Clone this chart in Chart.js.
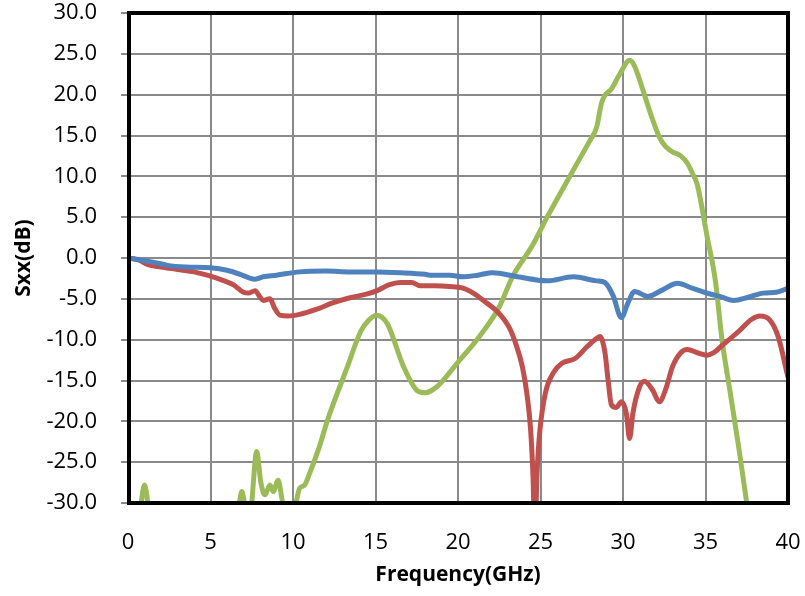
<!DOCTYPE html>
<html>
<head>
<meta charset="utf-8">
<script src="https://cdn.jsdelivr.net/npm/chart.js@4"></script>
<style>
html,body{margin:0;padding:0;background:#fff;}
#wrap{width:805px;height:596px;}
</style>
</head>
<body>
<div id="wrap"><canvas id="c" width="805" height="596"></canvas></div>
<script>
// Frequency (GHz) and Sxx (dB) values per trace
const xTicks = [0, 5, 10, 15, 20, 25, 30, 35, 40];
const yTicks = [30, 25, 20, 15, 10, 5, 0, -5, -10, -15, -20, -25, -30];

const blueFreq = [0, 0.6, 1.5, 2.4, 3.5, 5, 6, 6.8, 7.3, 7.7, 8.2, 9, 10.4, 12, 13.5, 15, 16.5, 18, 18.3, 19.5, 20.3, 21.2, 22.1, 23.6, 25.4, 27.0, 28.4, 28.9, 29.4, 29.9, 30.3, 30.7, 31.5, 32.4, 33.3, 34.2, 35.1, 36.0, 36.7, 37.6, 38.5, 39.3, 40];
const blueDb   = [0, -0.2, -0.5, -0.9, -1.1, -1.2, -1.5, -2.0, -2.4, -2.6, -2.3, -2.1, -1.7, -1.6, -1.7, -1.7, -1.8, -2.0, -2.1, -2.1, -2.3, -2.1, -1.8, -2.3, -2.8, -2.3, -2.8, -3.0, -4.6, -7.3, -5.5, -4.1, -4.7, -3.9, -3.1, -3.7, -4.3, -4.8, -5.2, -4.8, -4.3, -4.2, -3.7];

const redFreq = [0, 0.6, 1.2, 2, 3, 4, 4.8, 5.7, 6.4, 7.0, 7.3, 7.7, 8.0, 8.2, 8.6, 8.9, 9.2, 9.7, 10.4, 11.4, 12.4, 13.4, 14.5, 15.1, 15.8, 16.5, 17.2, 17.7, 18.6, 19.5, 20.3, 21.0, 21.6, 22.4, 23.1, 23.5, 23.9, 24.2, 24.4, 24.55, 24.65, 24.8, 24.95, 25.3, 25.8, 26.3, 27.1, 27.8, 28.3, 28.6, 28.9, 29.1, 29.3, 29.6, 29.9, 30.2, 30.4, 30.6, 31.0, 31.3, 31.8, 32.2, 32.6, 33.0, 33.5, 33.9, 34.5, 35.1, 35.5, 35.9, 37.0, 37.8, 38.3, 38.9, 39.4, 40];
const redDb   = [0, -0.2, -0.8, -1.1, -1.4, -1.7, -2.1, -2.7, -3.3, -4.2, -4.3, -4.0, -4.8, -5.2, -5.0, -6.2, -7.0, -7.1, -6.9, -6.3, -5.5, -4.9, -4.4, -4.0, -3.3, -3.0, -3.0, -3.4, -3.4, -3.5, -3.7, -4.4, -5.3, -6.6, -8.5, -10.5, -13.3, -17, -21, -27, -34, -26, -21.4, -16.5, -14, -12.9, -12.3, -10.9, -10.0, -9.6, -11.5, -15, -18.0, -18.3, -17.6, -19, -22.1, -19, -15.8, -15.1, -16.2, -17.6, -16, -13.3, -11.6, -11.2, -11.6, -11.9, -11.6, -10.9, -9.0, -7.5, -7.1, -7.6, -9.6, -14.6];

const greenFreq = [0, 0.6, 0.8, 1.0, 1.2, 1.4, 6.5, 6.75, 6.9, 7.05, 7.3, 7.5, 7.8, 8.05, 8.3, 8.6, 8.8, 9.1, 9.4, 9.8, 10.1, 10.4, 10.7, 11.0, 11.6, 12.1, 13.3, 14.1, 14.6, 15.05, 15.7, 16.7, 17.5, 18.0, 18.7, 20.1, 21.3, 22.5, 23.3, 24.5, 25.4, 26.5, 27.5, 28.0, 28.4, 28.7, 28.9, 29.3, 29.8, 30.4, 30.7, 31.2, 31.7, 32.2, 32.6, 33.0, 33.5, 33.9, 34.2, 34.5, 35.1, 35.6, 36.0, 36.5, 37.0, 37.5, 37.8];
const greenDb   = [-34, -34, -30, -27.8, -30, -34, -34, -30, -28.6, -30, -34, -30, -23.7, -27.5, -29.0, -27.8, -28.6, -27.2, -30, -30.3, -30.3, -28.2, -27.8, -26.4, -23.1, -19.8, -13.3, -9.0, -7.6, -7.0, -8.0, -13.3, -16.2, -16.5, -15.8, -12.5, -9.6, -6.0, -2.3, 1.5, 5.0, 9.0, 12.6, 14.4, 16.0, 19.0, 19.9, 20.7, 22.5, 24.2, 23.5, 20.6, 17.5, 14.8, 13.6, 13.0, 12.5, 11.6, 10.4, 9.0, 2.6, -2.8, -10, -16.5, -23, -30, -34];

const seriesColors = ['#4F81BD', '#C0504D', '#9BBB59'];

function pts(fs, vs){ return fs.map((f,i)=>({x:f, y:vs[i]})); }

const FONT = "'Open Sans', 'Liberation Sans', sans-serif";

const borderPlugin = {
  id: 'plotBorder',
  afterDraw(chart){
    const {ctx, chartArea:a} = chart;
    ctx.save();
    ctx.strokeStyle = '#000';
    ctx.lineWidth = 4;
    ctx.strokeRect(a.left+1, a.top, a.right-a.left-1, a.bottom-a.top);
    ctx.restore();
  }
};

const ds = [
  {data: pts(blueFreq, blueDb), borderColor: seriesColors[0]},
  {data: pts(redFreq, redDb), borderColor: seriesColors[1]},
  {data: pts(greenFreq, greenDb), borderColor: seriesColors[2]}
].map(d => Object.assign(d, {borderWidth: 5, pointRadius: 0, fill: false, cubicInterpolationMode: 'monotone', borderCapStyle: 'round', borderJoinStyle: 'round'}));

new Chart(document.getElementById('c'), {
  type: 'line',
  data: { datasets: ds },
  plugins: [borderPlugin],
  options: {
    responsive: false,
    animation: false,
    events: [],
    layout: { padding: { top: 13, right: 17, left: 0, bottom: 0 } },
    plugins: { legend: { display: false }, tooltip: { enabled: false } },
    scales: {
      x: {
        type: 'linear', min: 0, max: 40,
        afterBuildTicks(s){ s.ticks = xTicks.map(v=>({value:v})); },
        afterFit(s){ s.height = 93; s.paddingLeft = 0; s.paddingRight = 0; s.paddingTop = 0; s.paddingBottom = 0; },
        ticks: { color: '#000', font: { family: FONT, size: 22 }, padding: 27, maxRotation: 0, callback: v => String(v) },
        grid: { color: '#8a8a8a', lineWidth: 2, drawTicks: false },
        border: { display: false },
        title: { display: true, text: 'Frequency(GHz)', color: '#000', font: { family: FONT, size: 21, weight: 'bold' }, padding: { top: 0, bottom: 8 } }
      },
      y: {
        type: 'linear', min: -30, max: 30,
        afterBuildTicks(s){ s.ticks = yTicks.map(v=>({value:v})); },
        afterFit(s){ s.width = 128; s.paddingTop = 0; s.paddingBottom = 0; s.paddingLeft = 0; s.paddingRight = 0; },
        ticks: { color: '#000', font: { family: FONT, size: 22 }, padding: 24, callback: v => Number(v).toFixed(1) },
        grid: { color: '#8a8a8a', lineWidth: 2, tickLength: 7, drawTicks: true },
        border: { display: false },
        title: { display: true, text: 'Sxx(dB)', color: '#000', font: { family: FONT, size: 21, weight: 'bold' }, padding: { top: 11, bottom: 0 } }
      }
    }
  }
});
</script>
</body>
</html>
